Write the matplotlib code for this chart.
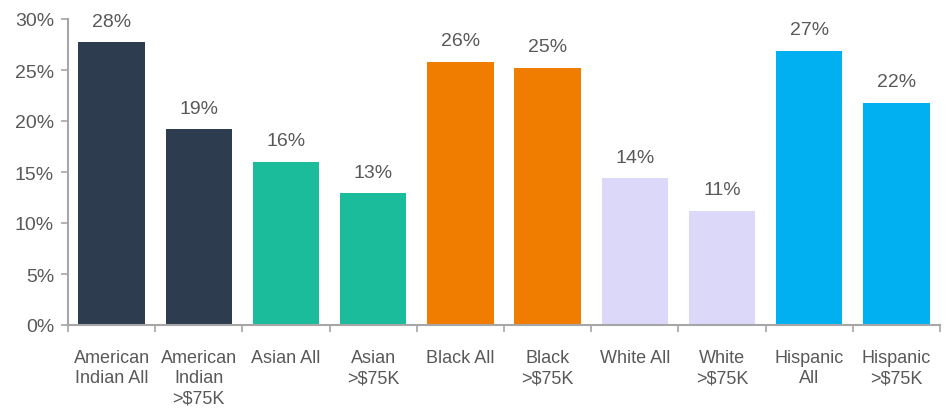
import numpy as np
import matplotlib.pyplot as plt
from matplotlib import font_manager

categories = ["American\nIndian All", "American\nIndian\n>$75K", "Asian All", "Asian\n>$75K",
              "Black All", "Black\n>$75K", "White All", "White\n>$75K", "Hispanic\nAll", "Hispanic\n>$75K"]
values = [27.7, 19.2, 16.0, 12.9, 25.8, 25.2, 14.4, 11.2, 26.9, 21.8]
labels = ["28%", "19%", "16%", "13%", "26%", "25%", "14%", "11%", "27%", "22%"]
colors = ["#2E3C4F", "#2E3C4F", "#1ABC9C", "#1ABC9C", "#F07C00", "#F07C00",
          "#DCD8FA", "#DCD8FA", "#00B0F0", "#00B0F0"]

names = {f.name for f in font_manager.fontManager.ttflist}
fam = "Liberation Sans Narrow" if "Liberation Sans Narrow" in names else "Liberation Sans"
plt.rcParams["font.family"] = [fam, "DejaVu Sans"]
text_color = "#595959"
axis_color = "#A6A6A6"

fig = plt.figure(figsize=(9.49, 4.10), dpi=100)
ax = fig.add_axes([68 / 949, 84 / 410, 872 / 949, 306 / 410])

x = np.arange(len(values))
bars = ax.bar(x, values, width=0.76, color=colors)
for b, lab in zip(bars, labels):
    ax.annotate(lab, (b.get_x() + b.get_width() / 2, b.get_height()),
                xytext=(0, 9), textcoords="offset points", ha="center", va="bottom",
                fontsize=14, color=text_color)

ax.set_xlim(-0.5, len(values) - 0.5)
ax.set_ylim(0, 30)
ax.set_yticks(np.arange(0, 31, 5))
ax.set_yticklabels([f"{v}%" for v in range(0, 31, 5)])
ax.set_xticks(x)
ax.set_xticklabels(categories, linespacing=1.27)
ax.set_xticks(np.arange(-0.5, len(values)), minor=True)
ax.tick_params(axis="x", which="major", length=0, pad=17, labelsize=13, colors=text_color)
ax.tick_params(axis="x", which="minor", length=5, width=1.2, color=axis_color, direction="out")
ax.tick_params(axis="y", length=5, width=1.2, color=axis_color, labelsize=14,
               labelcolor=text_color, pad=5)
for lab in ax.get_xticklabels():
    lab.set_verticalalignment("top")

for s in ["top", "right"]:
    ax.spines[s].set_visible(False)
for s in ["left", "bottom"]:
    ax.spines[s].set_color(axis_color)
    ax.spines[s].set_linewidth(1.5)

fig.savefig("out.png", dpi=100)
